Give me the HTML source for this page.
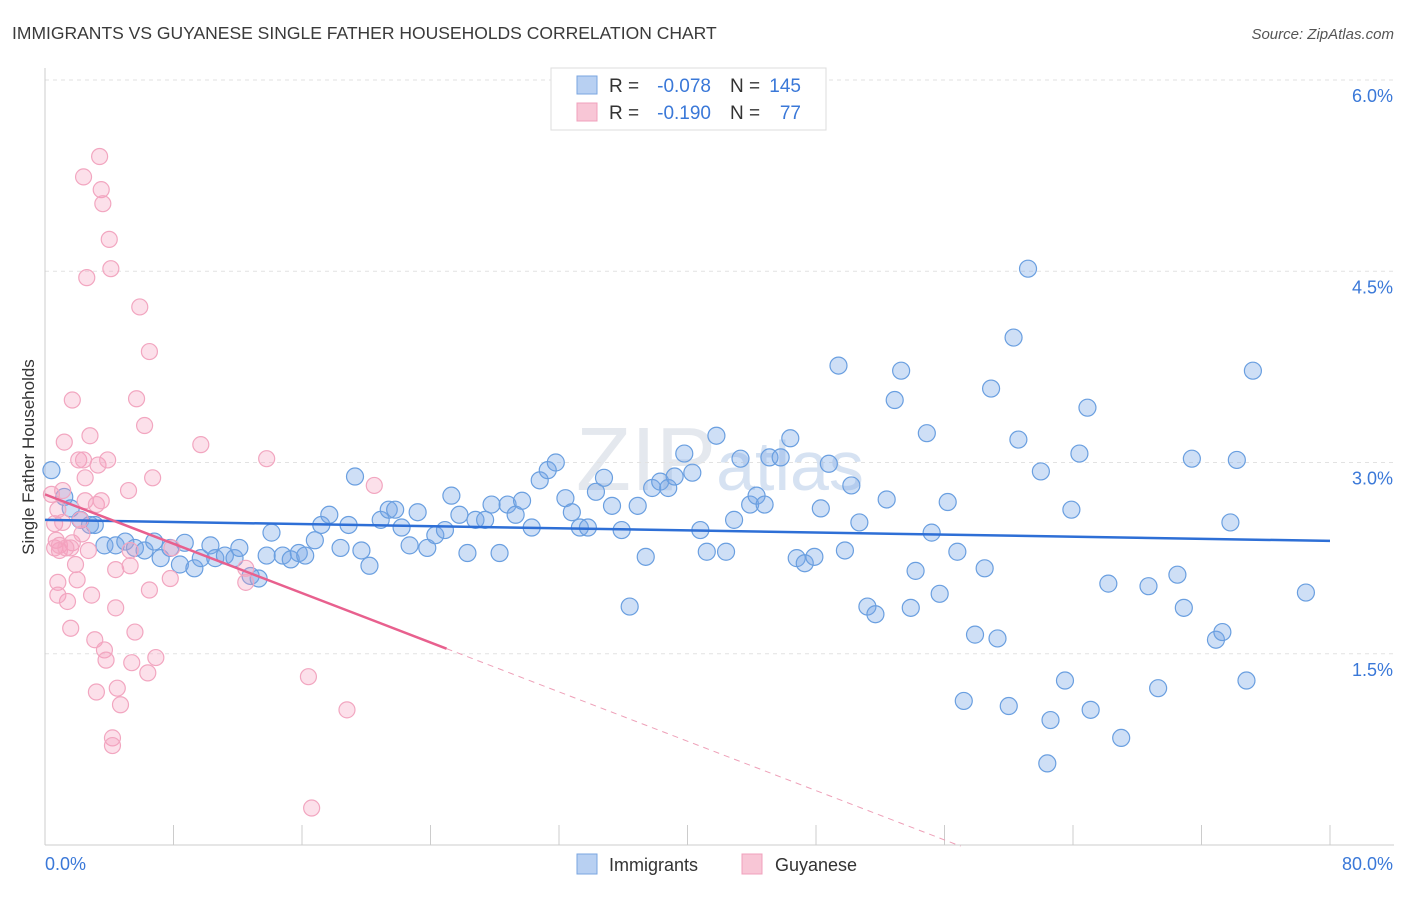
<!DOCTYPE html>
<html><head><meta charset="utf-8"><style>
body{margin:0;background:#fff;font-family:"Liberation Sans",sans-serif;}
svg text{font-family:"Liberation Sans",sans-serif;}
</style></head><body>
<svg id="chart" width="1406" height="892" xmlns="http://www.w3.org/2000/svg">
<text x="12" y="39" font-size="17.5" fill="#3a3a3a">IMMIGRANTS VS GUYANESE SINGLE FATHER HOUSEHOLDS CORRELATION CHART</text>
<text x="1394" y="39" font-size="15" fill="#555" font-style="italic" text-anchor="end">Source: ZipAtlas.com</text>
<text x="720" y="490" font-size="90" fill="#e4e8ee" text-anchor="middle" font-family="Liberation Serif">ZIP<tspan font-family="Liberation Sans" fill="#d6e2f2" font-size="70">atlas</tspan></text>
<g id="grid"></g>
<g id="axes"></g>
<g id="marks"></g>
<g id="trends"></g>
<text transform="translate(34,457) rotate(-90)" font-size="17" fill="#333" text-anchor="middle">Single Father Households</text>
<g>
<rect x="551" y="68" width="275" height="62" fill="#fff" stroke="#ddd"/>
<rect x="577" y="76" width="20" height="18" fill="#b8d0f2" stroke="#7aa6e0"/>
<rect x="577" y="103" width="20" height="18" fill="#f8c6d6" stroke="#f0a0bc"/>
<text x="609" y="92" font-size="19" fill="#333">R =</text>
<text x="711" y="92" font-size="19" fill="#3a78d8" text-anchor="end">-0.078</text>
<text x="730" y="92" font-size="19" fill="#333">N =</text>
<text x="801" y="92" font-size="19" fill="#3a78d8" text-anchor="end">145</text>
<text x="609" y="119" font-size="19" fill="#333">R =</text>
<text x="711" y="119" font-size="19" fill="#3a78d8" text-anchor="end">-0.190</text>
<text x="730" y="119" font-size="19" fill="#333">N =</text>
<text x="801" y="119" font-size="19" fill="#3a78d8" text-anchor="end">77</text>
</g>
<g>
<rect x="577" y="854" width="20" height="20" fill="#b8d0f2" stroke="#7aa6e0"/>
<text x="609" y="871" font-size="18" fill="#333">Immigrants</text>
<rect x="742" y="854" width="20" height="20" fill="#f8c6d6" stroke="#f0a0bc"/>
<text x="775" y="871" font-size="18" fill="#333">Guyanese</text>
</g>
</svg>
<script>
const yTicks=[1.5,3.0,4.5,6.0];
const xTickLabels=["0.0%","80.0%"];
const blueX=[0.4,1.2,1.6,2.2,2.8,3.1,3.7,4.4,5.0,5.6,6.2,6.8,7.2,7.8,8.4,8.7,9.3,9.7,10.3,10.6,11.2,11.8,12.1,12.8,13.3,14.1,13.8,14.8,15.3,15.8,16.2,16.8,17.2,17.7,18.4,18.9,19.3,19.7,20.2,20.9,21.4,21.8,22.2,22.7,23.2,23.8,24.3,24.9,25.3,25.8,26.3,26.8,27.4,27.8,28.3,28.8,29.3,29.7,30.3,30.8,31.3,31.8,32.4,32.8,33.3,33.8,34.3,34.8,35.3,35.9,36.4,36.9,37.4,37.8,38.3,38.8,39.2,39.8,40.3,40.8,41.2,41.8,42.4,42.9,43.3,43.9,44.3,44.8,45.1,45.8,46.4,46.8,47.3,47.9,48.3,48.8,49.4,49.8,50.2,50.7,51.2,51.7,52.4,52.9,53.3,53.9,54.2,54.9,55.2,55.7,56.2,56.8,57.2,57.9,58.5,58.9,59.3,60.0,60.3,60.6,61.2,62.0,62.4,62.6,63.5,63.9,64.4,64.9,65.1,66.2,67.0,68.7,69.3,70.5,70.9,71.4,72.9,73.3,73.8,74.2,74.8,75.2,78.5];
const blueY=[2.94,2.73,2.64,2.55,2.51,2.51,2.35,2.35,2.38,2.33,2.31,2.38,2.25,2.33,2.20,2.37,2.17,2.25,2.35,2.25,2.27,2.25,2.33,2.11,2.09,2.45,2.27,2.27,2.24,2.29,2.27,2.39,2.51,2.59,2.33,2.51,2.89,2.31,2.19,2.55,2.63,2.63,2.49,2.35,2.61,2.33,2.43,2.47,2.74,2.59,2.29,2.55,2.55,2.67,2.29,2.67,2.59,2.70,2.49,2.86,2.94,3.00,2.72,2.61,2.49,2.49,2.77,2.88,2.66,2.47,1.87,2.66,2.26,2.80,2.85,2.80,2.89,3.07,2.92,2.47,2.30,3.21,2.30,2.55,3.03,2.67,2.74,2.67,3.04,3.04,3.19,2.25,2.21,2.26,2.64,2.99,3.76,2.31,2.82,2.53,1.87,1.81,2.71,3.49,3.72,1.86,2.15,3.23,2.45,1.97,2.69,2.30,1.13,1.65,2.17,3.58,1.62,1.09,3.98,3.18,4.52,2.93,0.64,0.98,1.29,2.63,3.07,3.43,1.06,2.05,0.84,2.03,1.23,2.12,1.86,3.03,1.61,1.67,2.53,3.02,1.29,3.72,1.98];
const pinkX=[0.4,0.6,0.7,0.6,0.8,0.9,1.1,1.1,1.2,1.4,1.6,1.7,1.7,1.9,2.0,2.1,2.2,2.3,2.4,2.4,2.5,2.6,2.7,2.8,2.9,3.1,3.2,3.2,3.3,3.4,3.5,3.5,3.6,3.7,3.8,3.9,4.0,4.1,4.2,4.2,4.4,4.4,4.5,4.7,5.2,5.3,5.3,5.4,5.6,5.7,5.9,6.2,6.4,6.5,6.5,6.7,6.9,7.8,7.9,9.7,12.5,12.5,13.8,16.4,16.6,18.8,20.5,0.8,0.9,1.6,1.3,2.5,0.8];
const pinkY=[2.75,2.52,2.39,2.33,2.06,2.31,2.53,2.78,3.16,1.91,1.70,2.37,3.49,2.20,2.08,3.02,2.55,2.44,5.24,3.02,2.70,4.45,2.31,3.21,1.96,1.61,1.20,2.67,2.98,5.40,2.70,5.14,5.03,1.53,1.45,3.02,4.75,4.52,0.84,0.78,1.86,2.16,1.23,1.10,2.78,2.19,2.31,1.43,1.67,3.50,4.22,3.29,1.35,3.87,2.00,2.88,1.47,2.09,2.33,3.14,2.17,2.06,3.03,1.32,0.29,1.06,2.82,1.96,2.35,2.33,2.33,2.88,2.63];
const blueTrend=[2.55,2.385];
const pinkTrend=[2.75,-0.0484];
const pinkSolidEnd=25, pinkDashEnd=57;

const NS="http://www.w3.org/2000/svg";
const X0=45,X1=1330,Y0=845,YPER=127.5;
const sx=v=>X0+(X1-X0)*v/80;
const sy=v=>Y0-v*YPER;
function mk(tag,attrs,parent){const e=document.createElementNS(NS,tag);for(const k in attrs)e.setAttribute(k,attrs[k]);parent.appendChild(e);return e;}
const grid=document.getElementById('grid'),axes=document.getElementById('axes'),marks=document.getElementById('marks'),trends=document.getElementById('trends');
yTicks.forEach(t=>{
 const l=mk('line',{x1:X0,x2:1394,y1:sy(t),y2:sy(t),stroke:'#e2e2e2','stroke-dasharray':'4,4'},grid);
 
 
 const tx=mk('text',{x:1393,y:sy(t)+22,'font-size':18,fill:'#3a78d8','text-anchor':'end'},axes);
 tx.textContent=t.toFixed(1)+'%';
 
 
});
const la=mk('line',{x1:X0,x2:X0,y1:68,y2:Y0,stroke:'#ccc'},axes);


const ba=mk('line',{x1:X0,x2:1394,y1:Y0,y2:Y0,stroke:'#ccc'},axes);


for(let i=0;i<=10;i++){
 const t=mk('line',{x1:sx(i*8),x2:sx(i*8),y1:Y0-20,y2:Y0,stroke:'#ccc'},axes);
 
 
}
const xl0=mk('text',{x:45,y:870,'font-size':18,fill:'#3a78d8'},axes);xl0.textContent=xTickLabels[0];


const xl1=mk('text',{x:1393,y:870,'font-size':18,fill:'#3a78d8','text-anchor':'end'},axes);xl1.textContent=xTickLabels[1];


blueX.forEach((x,i)=>{
 const c=mk('circle',{cx:sx(x),cy:sy(blueY[i]),r:8.5,fill:'rgba(120,165,230,0.36)',stroke:'#6a9fe0','stroke-width':1.2},marks);
 
 
});
pinkX.forEach((x,i)=>{
 const c=mk('circle',{cx:sx(x),cy:sy(pinkY[i]),r:8,fill:'rgba(245,160,190,0.32)',stroke:'#f2a6c0','stroke-width':1.2},marks);
 
 
});
const bt=mk('line',{x1:sx(0),y1:sy(blueTrend[0]),x2:sx(80),y2:sy(blueTrend[1]),stroke:'#2e6fd6','stroke-width':2.5},trends);


const pv=x=>pinkTrend[0]+pinkTrend[1]*x;
const pt=mk('line',{x1:sx(0),y1:sy(pv(0)),x2:sx(pinkSolidEnd),y2:sy(pv(pinkSolidEnd)),stroke:'#e8608e','stroke-width':2.5},trends);


const pd=mk('line',{x1:sx(pinkSolidEnd),y1:sy(pv(pinkSolidEnd)),x2:sx(pinkDashEnd),y2:sy(pv(pinkDashEnd)),stroke:'#eea0b8','stroke-width':1,'stroke-dasharray':'6,5'},trends);


</script>
</body></html>
